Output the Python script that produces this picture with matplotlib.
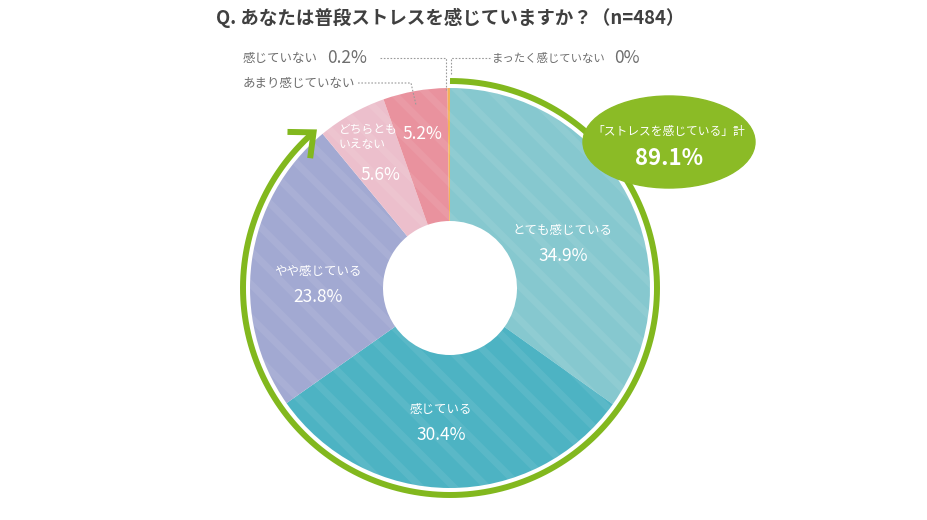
import numpy as np
import matplotlib
matplotlib.use("Agg")
import matplotlib.pyplot as plt
from matplotlib.patches import Ellipse, FancyArrowPatch
from matplotlib.path import Path

plt.rcParams['font.family'] = ['Noto Sans CJK JP', 'DejaVu Sans']
plt.rcParams['hatch.linewidth'] = 5

# データ
categories = ["とても感じている", "感じている", "やや感じている", "どちらともいえない",
              "あまり感じていない", "感じていない", "まったく感じていない"]
values = [34.9, 30.4, 23.8, 5.6, 5.2, 0.2, 0.0]
colors = ["#86c8cf", "#4db3c3", "#a2a9d2", "#ecbfcc", "#e9929e", "#f3b25a", "#cccccc"]
total_label = "「ストレスを感じている」計"
total_value = "89.1%"
title = "Q. あなたは普段ストレスを感じていますか？（n=484）"

fig = plt.figure(figsize=(9.28, 5.2), dpi=100)
ax = fig.add_axes([0, 0, 1, 1])

cx, cy, r = 450, 232, 200

# 塗り
wedges, _ = ax.pie(values, colors=colors, startangle=90, counterclock=False,
                   radius=r, center=(cx, cy),
                   wedgeprops=dict(width=r * 0.665, linewidth=0))
# 斜線
stripes, _ = ax.pie(values, colors=colors, startangle=90, counterclock=False,
                    radius=r, center=(cx, cy),
                    wedgeprops=dict(width=r * 0.665, linewidth=0))
for w in stripes:
    w.set_facecolor("none")
    w.set_edgecolor((1, 1, 1, 0.08))
    w.set_linewidth(0)
    w.set_hatch("\\")

# 緑の矢印
R = 207
theta = np.radians(np.linspace(90, -230, 200))
verts = np.column_stack([cx + R * np.cos(theta), cy + R * np.sin(theta)])
arrow = FancyArrowPatch(path=Path(verts), arrowstyle="->,head_length=1.4,head_width=1.25",
                        mutation_scale=10, color="#82b81e", linewidth=4.3,
                        shrinkA=0, shrinkB=0, joinstyle="miter", capstyle="butt")
ax.add_patch(arrow)

# 吹き出し
ax.add_patch(Ellipse((669, 378), 172, 92, color="#8bbb26", zorder=3))
ax.text(669, 389, total_label, ha="center", va="center", color="white", fontsize=8.5, zorder=4)
ax.text(669, 362, total_value, ha="center", va="center", color="white", fontsize=16,
        fontweight="bold", zorder=4)

# タイトル
ax.text(450, 502, title, ha="center", va="center", color="#404040", fontsize=13.3, fontweight="bold")

# 内側のラベル
w = "white"
ax.text(563, 290, categories[0], ha="center", va="center", color=w, fontsize=9)
ax.text(563, 264, "34.9%", ha="center", va="center", color=w, fontsize=12.5)
ax.text(441, 110, categories[1], ha="center", va="center", color=w, fontsize=9)
ax.text(441, 85, "30.4%", ha="center", va="center", color=w, fontsize=12.5)
ax.text(318, 249, categories[2], ha="center", va="center", color=w, fontsize=9)
ax.text(318, 223, "23.8%", ha="center", va="center", color=w, fontsize=12.5)
ax.text(339, 383, "どちらとも\nいえない", ha="left", va="center", color=w, fontsize=8.5,
        linespacing=1.25)
ax.text(380, 345, "5.6%", ha="center", va="center", color=w, fontsize=12.5)
ax.text(422, 386, "5.2%", ha="center", va="center", color=w, fontsize=12.5)

# 外側のラベル
g = "#6e6e6e"
ax.text(243, 462, categories[5], ha="left", va="center", color=g, fontsize=9)
ax.text(327, 462, "0.2%", ha="left", va="center", color=g, fontsize=12.5)
ax.text(492, 462, categories[6], ha="left", va="center", color=g, fontsize=8.2)
ax.text(614, 462, "0%", ha="left", va="center", color=g, fontsize=12.5)
ax.text(243, 437, categories[4], ha="left", va="center", color=g, fontsize=9)

lk = dict(color="#9a9a9a", linewidth=0.8, linestyle=(0, (1.5, 1.5)))
ax.plot([380, 446, 446], [462, 462, 430], **lk)
ax.plot([490, 451, 451], [462, 462, 445], **lk)
ax.plot([358, 411, 416], [437, 437, 415], **lk)

ax.set_xlim(0, 928)
ax.set_ylim(0, 520)
ax.set_aspect("equal")
ax.axis("off")

plt.savefig("out.png", dpi=100)
